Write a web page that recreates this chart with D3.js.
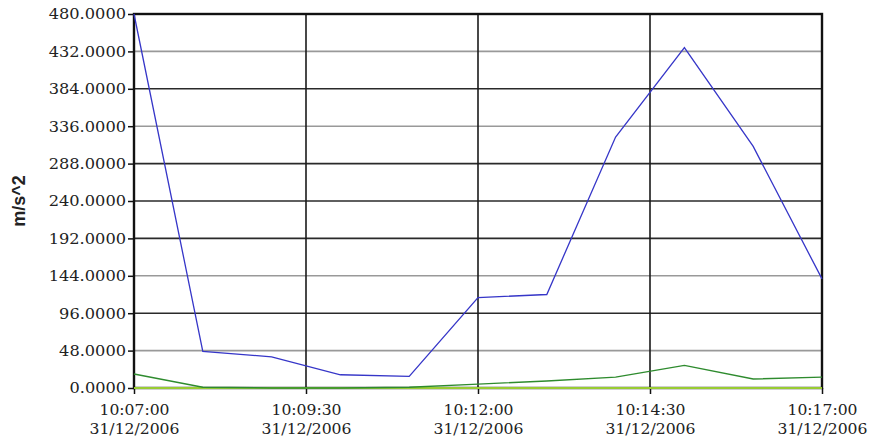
<!DOCTYPE html>
<html>
<head>
    <script src="https://d3js.org/d3.v7.min.js"></script>
    <style>
        body { margin: 0; background: #fff; }
        .tick-y { font-family: "DejaVu Serif", serif; font-size: 14px; fill: #222; }
        .tick-x { font-family: "DejaVu Serif", serif; font-size: 14px; fill: #222; }
    </style>
</head>
<body>
    <svg width="871" height="442"></svg>
    <script>
    // sample times (one per minute) and the three series
    var times = ["10:07:00", "10:08:00", "10:09:00", "10:10:00", "10:11:00", "10:12:00",
                 "10:13:00", "10:14:00", "10:15:00", "10:16:00", "10:17:00"];
    var blueValues  = [480, 47, 40, 17, 15, 116, 120, 322, 437, 310, 140];
    var greenValues = [18, 1, 0, 0, 1, 5, 9, 14, 29, 11.5, 14];
    var limeValues  = [0, 0, 0, 0, 0, 0, 0, 0, 0, 0, 0];

    var yTicks = [0, 48, 96, 144, 192, 240, 288, 336, 384, 432, 480];
    var lightTicks = [48, 144, 336, 432];
    var xTicks = ["10:07:00", "10:09:30", "10:12:00", "10:14:30", "10:17:00"];
    var dateLabel = "31/12/2006";
    var yTitle = "m/s^2";

    var parse = d3.timeParse("%d/%m/%Y %H:%M:%S");
    var toDate = function(t){ return parse(dateLabel + " " + t); };

    // note: "top" is a read-only global in browsers, so use other names
    var plotL = 134, plotR = 822, plotT = 14, plotB = 388;
    var svg = d3.select("svg");

    var x = d3.scaleTime()
        .domain([toDate(times[0]), toDate(times[times.length - 1])])
        .range([plotL, plotR]);
    var y = d3.scaleLinear().domain([0, 480]).range([plotB, plotT]);

    // horizontal grid
    svg.append("g").selectAll("line").data(yTicks).join("line")
        .attr("x1", plotL).attr("x2", plotR)
        .attr("y1", function(d){ return y(d); }).attr("y2", function(d){ return y(d); })
        .attr("stroke", function(d){ return lightTicks.indexOf(d) >= 0 ? "#999" : "#2a2a2a"; })
        .attr("stroke-width", 1.6);

    // vertical grid
    svg.append("g").selectAll("line").data(xTicks).join("line")
        .attr("x1", function(d){ return x(toDate(d)); }).attr("x2", function(d){ return x(toDate(d)); })
        .attr("y1", plotT).attr("y2", plotB)
        .attr("stroke", "#1a1a1a").attr("stroke-width", 1.6);

    // frame
    svg.append("rect")
        .attr("x", plotL).attr("y", plotT)
        .attr("width", plotR - plotL).attr("height", plotB - plotT)
        .attr("fill", "none").attr("stroke", "#111").attr("stroke-width", 2.4);

    // y axis (the old bitmap font is wide, so stretch the labels a bit)
    var yAxis = d3.axisLeft(y).tickValues(yTicks).tickSize(6).tickPadding(2)
        .tickFormat(function(d){ return d.toFixed(4); });
    var gy = svg.append("g").attr("transform", "translate(" + plotL + ",0)").call(yAxis);
    gy.select(".domain").remove();
    gy.selectAll(".tick line").attr("stroke", "#111").attr("stroke-width", 1.5);
    gy.selectAll(".tick text").attr("class", "tick-y").attr("dy", "0.35em")
        .attr("textLength", function(d){ return (d.toFixed(4).length - 1) * 10.4 + 4.5; })
        .attr("lengthAdjust", "spacingAndGlyphs");

    // x axis
    var xAxis = d3.axisBottom(x).tickValues(xTicks.map(toDate)).tickSize(6).tickFormat("");
    var gx = svg.append("g").attr("transform", "translate(0," + plotB + ")").call(xAxis);
    gx.select(".domain").remove();
    gx.selectAll(".tick line").attr("stroke", "#111").attr("stroke-width", 1.5);
    gx.selectAll(".tick").each(function(d, i){
        var g = d3.select(this);
        g.append("text").attr("class", "tick-x").attr("text-anchor", "middle")
            .attr("y", 27).attr("textLength", 70).attr("lengthAdjust", "spacingAndGlyphs")
            .text(xTicks[i]);
        g.append("text").attr("class", "tick-x").attr("text-anchor", "middle")
            .attr("y", 46).attr("textLength", 90).attr("lengthAdjust", "spacingAndGlyphs")
            .text(dateLabel);
    });

    // y title
    svg.append("text")
        .attr("transform", "translate(25," + ((plotT + plotB) / 2) + ") rotate(-90)")
        .attr("text-anchor", "middle")
        .style("font-family", "Liberation Sans, Arial, sans-serif")
        .style("font-weight", "bold").style("font-size", "18px").attr("fill", "#222")
        .text(yTitle);

    // series
    var line = d3.line()
        .x(function(d, i){ return x(toDate(times[i])); })
        .y(function(d){ return y(d); });

    svg.append("path").datum(limeValues).attr("d", line)
        .attr("fill", "none").attr("stroke", "#99cc33").attr("stroke-width", 2);
    svg.append("path").datum(greenValues).attr("d", line)
        .attr("fill", "none").attr("stroke", "#2e8b2e").attr("stroke-width", 1.4);
    svg.append("path").datum(blueValues).attr("d", line)
        .attr("fill", "none").attr("stroke", "#3636c8").attr("stroke-width", 1.3);
    </script>
</body>
</html>
